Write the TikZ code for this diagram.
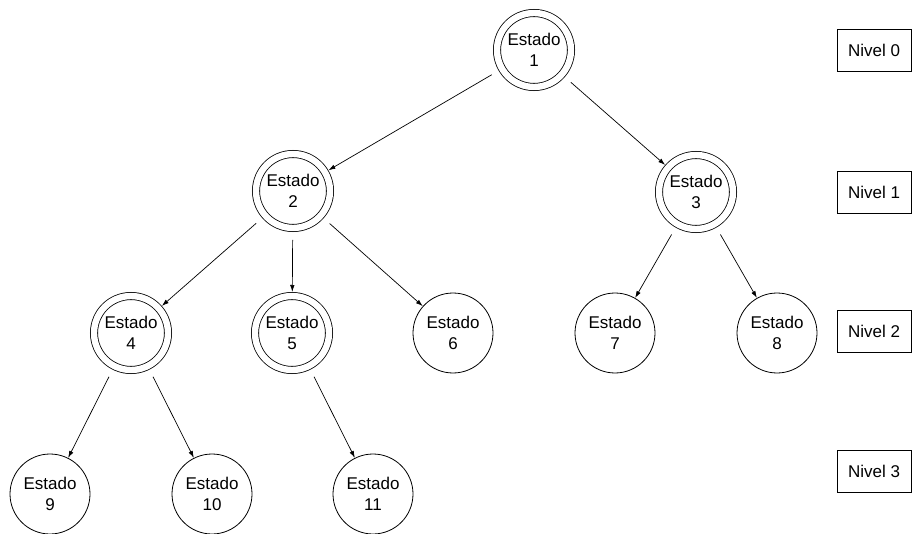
\documentclass[tikz,border=0pt]{standalone}
\usepackage{fontspec}
\setmainfont{Liberation Sans}
\usetikzlibrary{arrows.meta}
\begin{document}
\begin{tikzpicture}[x=1pt,y=-1pt,
  every node/.style={font=\fontsize{17}{21}\selectfont, align=center},
  state/.style={circle, draw, line width=0.8pt, minimum size=80pt, inner sep=0pt},
  visited/.style={circle, draw, line width=0.8pt, double, double distance=6.4pt,
    minimum size=74pt, inner sep=0pt, outer sep=4pt},
  levelbox/.style={draw, line width=0.8pt, minimum width=74pt, minimum height=42pt, inner sep=0pt},
  edge/.style={line width=0.7pt, -{Latex[length=7pt,width=4.5pt]}, shorten <=8pt}]
  \useasboundingbox (0,0) rectangle (912,534);

  % level 0
  \node[visited] (e1) at (534,50) {Estado\\1};
  % level 1
  \node[visited] (e2) at (293,191) {Estado\\2};
  \node[visited] (e3) at (696,192) {Estado\\3};
  % level 2
  \node[visited] (e4) at (131,333) {Estado\\4};
  \node[visited] (e5) at (292,333) {Estado\\5};
  \node[state]   (e6) at (453,333) {Estado\\6};
  \node[state]   (e7) at (615,333) {Estado\\7};
  \node[state]   (e8) at (777,333) {Estado\\8};
  % level 3
  \node[state] (e9)  at (50,494)  {Estado\\9};
  \node[state] (e10) at (212,494) {Estado\\10};
  \node[state] (e11) at (373,494) {Estado\\11};

  % level labels
  \node[levelbox] (l0) at (874,50)  {Nivel 0};
  \node[levelbox] (l1) at (874,192) {Nivel 1};
  \node[levelbox] (l2) at (874,331) {Nivel 2};
  \node[levelbox] (l3) at (874,471) {Nivel 3};

  % tree edges
  \draw[edge] (e1) -- (e2);
  \draw[edge] (e1) -- (e3);
  \draw[edge] (e2) -- (e4);
  \draw[edge] (e2) -- (e5);
  \draw[edge] (e2) -- (e6);
  \draw[edge] (e3) -- (e7);
  \draw[edge] (e3) -- (e8);
  \draw[edge] (e4) -- (e9);
  \draw[edge] (e4) -- (e10);
  \draw[edge] (e5) -- (e11);
\end{tikzpicture}
\end{document}
